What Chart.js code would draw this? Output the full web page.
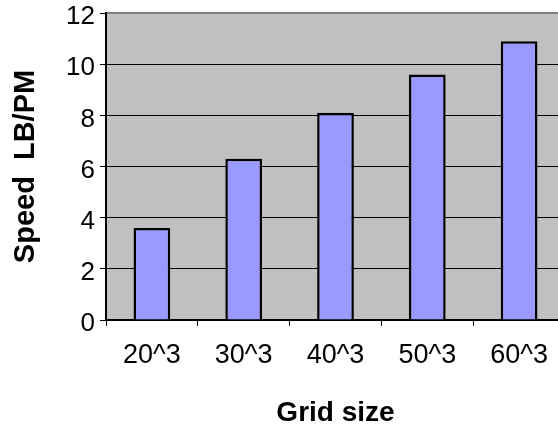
<!DOCTYPE html>
<html>
<head>
<meta charset="utf-8">
<style>
  html, body { margin: 0; padding: 0; background: #ffffff; width: 558px; height: 430px; overflow: hidden; }
  #wrap { position: relative; width: 570px; height: 430px; }
</style>
<script src="https://cdn.jsdelivr.net/npm/chart.js@4/dist/chart.umd.min.js"></script>
</head>
<body>
<div id="wrap"><canvas id="chart"></canvas></div>
<script>
// Speed versus grid size
const categories = ['20^3', '30^3', '40^3', '50^3', '60^3'];
const speedValues = [3.6, 6.3, 8.1, 9.6, 10.9];
const yTicks = [0, 2, 4, 6, 8, 10, 12];

const FONT = "'Liberation Sans', Arial, Helvetica, sans-serif";

// Gray plot background and the gray frame on the top and right edges
const plotFrame = {
  id: 'plotFrame',
  beforeDraw(chart) {
    const { ctx, chartArea: a } = chart;
    ctx.save();
    ctx.fillStyle = '#C0C0C0';
    ctx.fillRect(a.left, a.top, a.right - a.left, a.bottom - a.top);
    ctx.restore();
  },
  beforeDatasetsDraw(chart) {
    const { ctx, chartArea: a } = chart;
    ctx.save();
    ctx.strokeStyle = '#808080';
    ctx.lineWidth = 2;
    ctx.beginPath();
    ctx.moveTo(a.left + 1, a.top);
    ctx.lineTo(a.right, a.top);
    ctx.lineTo(a.right, a.bottom);
    ctx.stroke();
    ctx.restore();
  }
};

new Chart(document.getElementById('chart'), {
  type: 'bar',
  data: {
    labels: categories,
    datasets: [{
      data: speedValues,
      backgroundColor: '#9999FF',
      borderColor: '#000000',
      borderWidth: 2.5,
      borderSkipped: 'bottom',
      barPercentage: 0.4,
      categoryPercentage: 1.0
    }]
  },
  options: {
    responsive: true,
    maintainAspectRatio: false,
    animation: false,
    layout: { padding: { top: 13, right: 5, left: 0, bottom: 0 } },
    plugins: { legend: { display: false }, tooltip: { enabled: false } },
    scales: {
      x: {
        offset: true,
        grid: {
          offset: true,
          drawOnChartArea: false,
          drawTicks: true,
          tickLength: 6,
          color: '#000000',
          lineWidth: 1
        },
        border: { display: true, color: '#000000', width: 2 },
        ticks: {
          color: '#000000',
          font: { family: FONT, size: 27 },
          padding: 13,
          maxRotation: 0
        },
        title: {
          display: true,
          text: 'Grid size',
          color: '#000000',
          font: { family: FONT, size: 28, weight: 'bold' },
          padding: { top: 0, bottom: 0 }
        },
        afterFit(scale) {
          scale.height = 110;
          scale.paddingLeft = 0;
          scale.paddingRight = 0;
        }
      },
      y: {
        min: 0,
        max: 12,
        afterBuildTicks(scale) { scale.ticks = yTicks.map(v => ({ value: v })); },
        grid: {
          drawTicks: true,
          tickLength: 6,
          color: '#000000',
          lineWidth: 1
        },
        border: { display: true, color: '#000000', width: 2 },
        ticks: {
          color: '#000000',
          font: { family: FONT, size: 26 },
          padding: 5,
          labelOffset: 4
        },
        title: {
          display: true,
          text: 'Speed  LB/PM',
          color: '#000000',
          font: { family: FONT, size: 29, weight: 'bold' },
          padding: { top: 9, bottom: 0 }
        },
        afterFit(scale) {
          scale.width = 106;
          scale.paddingTop = 0;
          scale.paddingBottom = 0;
        }
      }
    }
  },
  plugins: [plotFrame]
});
</script>
</body>
</html>
